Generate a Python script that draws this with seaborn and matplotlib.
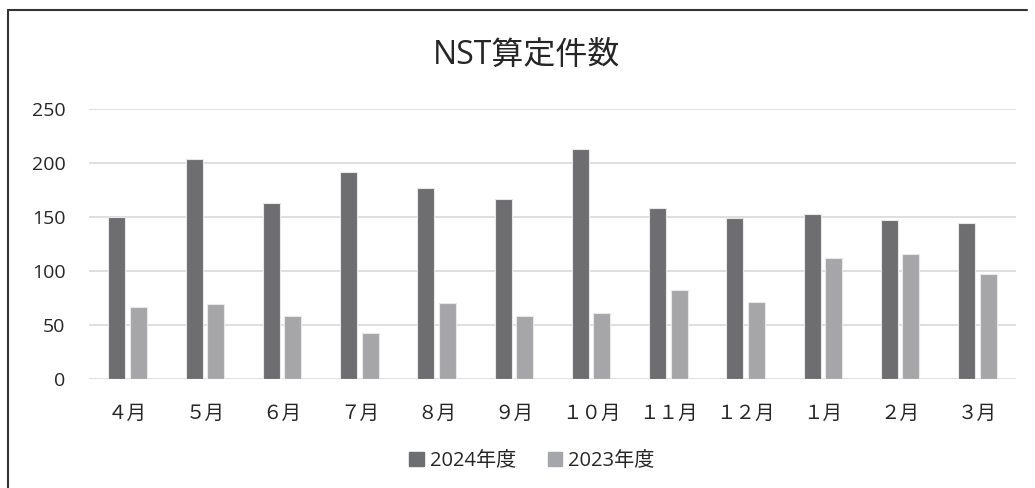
import pandas as pd
import matplotlib
matplotlib.use("Agg")
import matplotlib.pyplot as plt
from matplotlib.lines import Line2D
import seaborn as sns

months = ["４月", "５月", "６月", "７月", "８月", "９月",
          "１０月", "１１月", "１２月", "１月", "２月", "３月"]
counts_2024 = [150, 204, 163, 192, 177, 167, 213, 158, 149, 153, 147, 144]
counts_2023 = [67, 69, 58, 43, 70, 58, 61, 82, 71, 112, 116, 97]
series = ["2024年度", "2023年度"]
colors = ["#6d6e71", "#a5a6a9"]

df = pd.DataFrame({
    "month": months * 2,
    "count": counts_2024 + counts_2023,
    "year": [series[0]] * len(months) + [series[1]] * len(months),
})

sns.set_theme(style="white")
plt.rcParams["font.family"] = ["Open Sans", "Noto Sans CJK JP", "DejaVu Sans"]

fig = plt.figure(figsize=(10.35, 4.88), dpi=100)
ax = fig.add_axes([89 / 1035, 1 - 379 / 488, (1016 - 89) / 1035, (379 - 109) / 488])

sns.barplot(data=df, x="month", y="count", hue="year", order=months,
            hue_order=series, palette=colors, width=0.56, gap=0.21,
            edgecolor="#e8e8e8", linewidth=0.8, ax=ax, legend=False, zorder=3)

ax.set_ylim(0, 250)
ax.set_yticks(range(0, 251, 50))
ax.set_xlim(-0.5, 11.5)
ax.grid(axis="y", color="#d9d9d9", linewidth=1.2, zorder=0)
ax.set_axisbelow(True)
for s in ax.spines.values():
    s.set_visible(False)
ax.set_xlabel("")
ax.set_ylabel("")
ax.tick_params(axis="y", length=0, pad=17, labelsize=14, labelcolor="#262626")
ax.tick_params(axis="x", length=0, pad=19, labelsize=14, labelcolor="#262626")

fig.text(527 / 1035, 1 - 55 / 488, "NST算定件数", ha="center", va="center",
         fontsize=23, color="#262626")

handles = [plt.Rectangle((0, 0), 1, 1, color=c) for c in colors]
fig.legend(handles, series, loc="center", bbox_to_anchor=(532 / 1035, 1 - 461 / 488),
           ncol=2, frameon=False, fontsize=14.5, handlelength=0.7, handleheight=0.7,
           handletextpad=0.3, columnspacing=1.6, labelcolor="#262626")

# chart frame
fig.add_artist(Line2D([8 / 1035, 8 / 1035], [0, 1 - 10 / 488], color="#333333",
                      linewidth=1.5, transform=fig.transFigure))
fig.add_artist(Line2D([8 / 1035, 1027 / 1035], [1 - 10 / 488, 1 - 10 / 488],
                      color="#333333", linewidth=1.5, transform=fig.transFigure))

fig.savefig("out.png", dpi=100)
